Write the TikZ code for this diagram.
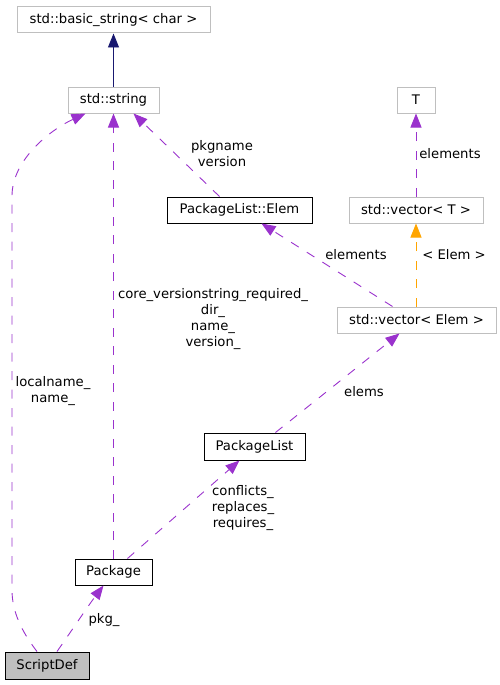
\documentclass[tikz,border=0pt]{standalone}
\usepackage{fontspec}
\setmainfont{DejaVu Sans}
\usetikzlibrary{arrows.meta}
\definecolor{edgepurple}{HTML}{9A32CD}
\definecolor{edgeorange}{HTML}{FFA500}
\definecolor{edgenavy}{HTML}{191970}
\definecolor{boxgrey}{HTML}{BFBFBF}
\begin{document}
\begin{tikzpicture}[x=1pt,y=-1pt,
  every node/.style={font=\fontsize{13.2}{16}\selectfont, inner sep=0pt},
  extbox/.style={draw=boxgrey, line width=1pt, minimum height=26pt},
  docbox/.style={draw=black, line width=1pt, minimum height=26pt},
  curbox/.style={draw=black, fill=boxgrey, line width=1pt, minimum height=26pt},
  lbl/.style={align=center},
  tipstyle/.style={-{Triangle[length=14pt,width=11pt]}},
  usage/.style={draw=edgepurple, line width=0.9pt, dash pattern=on 9pt off 9.5pt, tipstyle},
  templ/.style={draw=edgeorange, line width=0.9pt, dash pattern=on 9pt off 9.5pt, tipstyle},
  inherit/.style={draw=edgenavy, line width=0.9pt, tipstyle}]
\useasboundingbox (0,0) rectangle (500,685);
% boxes
\node[extbox, minimum width=193pt] (bs) at (113.5,20) {std::basic\_string< char >};
\node[extbox, minimum width=91pt] (str) at (113.5,100) {std::string};
\node[extbox, minimum width=38pt] (T) at (416,100) {T};
\node[extbox, minimum width=134pt] (vecT) at (416,210) {std::vector< T >};
\node[docbox, minimum width=145pt] (elem) at (239.5,210) {PackageList::Elem};
\node[extbox, minimum width=159pt] (vecE) at (416.5,320) {std::vector< Elem >};
\node[docbox, minimum width=101pt, minimum height=27pt] (pl) at (254.5,446.5) {PackageList};
\node[docbox, minimum width=77pt] (pkg) at (113.5,572) {Package};
\node[curbox, minimum width=84pt, minimum height=27pt] (sd) at (47,665.5) {ScriptDef};
% edges
\draw[inherit] (str.north) -- (bs.south);
\draw[usage] ([xshift=-10pt]sd.north) .. controls (22,632) and (12,612) .. (12,590)
  -- (12,196) .. controls (12,160) and (50,130) .. ([xshift=-28pt]str.south);
\draw[usage] (pkg.north) -- (str.south);
\draw[usage] ([xshift=-20pt]elem.north) -- ([xshift=20pt]str.south);
\draw[usage] ([xshift=-24pt]vecE.north) -- ([xshift=22pt]elem.south);
\draw[usage] (vecT.north) -- (T.south);
\draw[templ] ([xshift=-0.5pt]vecE.north) -- (vecT.south);
\draw[usage] ([xshift=21pt]pl.north) -- ([xshift=-17pt]vecE.south);
\draw[usage] ([xshift=14pt]pkg.north) -- ([xshift=-15pt]pl.south);
\draw[usage] ([xshift=10pt]sd.north) .. controls (68,636) and (88,606) .. ([xshift=-10pt]pkg.south);
% labels
\node[lbl] (l1) at (53,391.5) {localname\_\\name\_};
\node[lbl] (l2) at (213,319) {core\_versionstring\_required\_\\dir\_\\name\_\\version\_};
\node[lbl] (l3) at (222,154) {pkgname\\version};
\node[lbl] (l4) at (356,255) {elements};
\node[lbl] (l5) at (450,154) {elements};
\node[lbl] (l6) at (454,255) {< Elem >};
\node[lbl] (l7) at (364,392) {elems};
\node[lbl] (l8) at (243,508) {conflicts\_\\replaces\_\\requires\_};
\node[lbl] (l9) at (104,620) {pkg\_};
\end{tikzpicture}
\end{document}
